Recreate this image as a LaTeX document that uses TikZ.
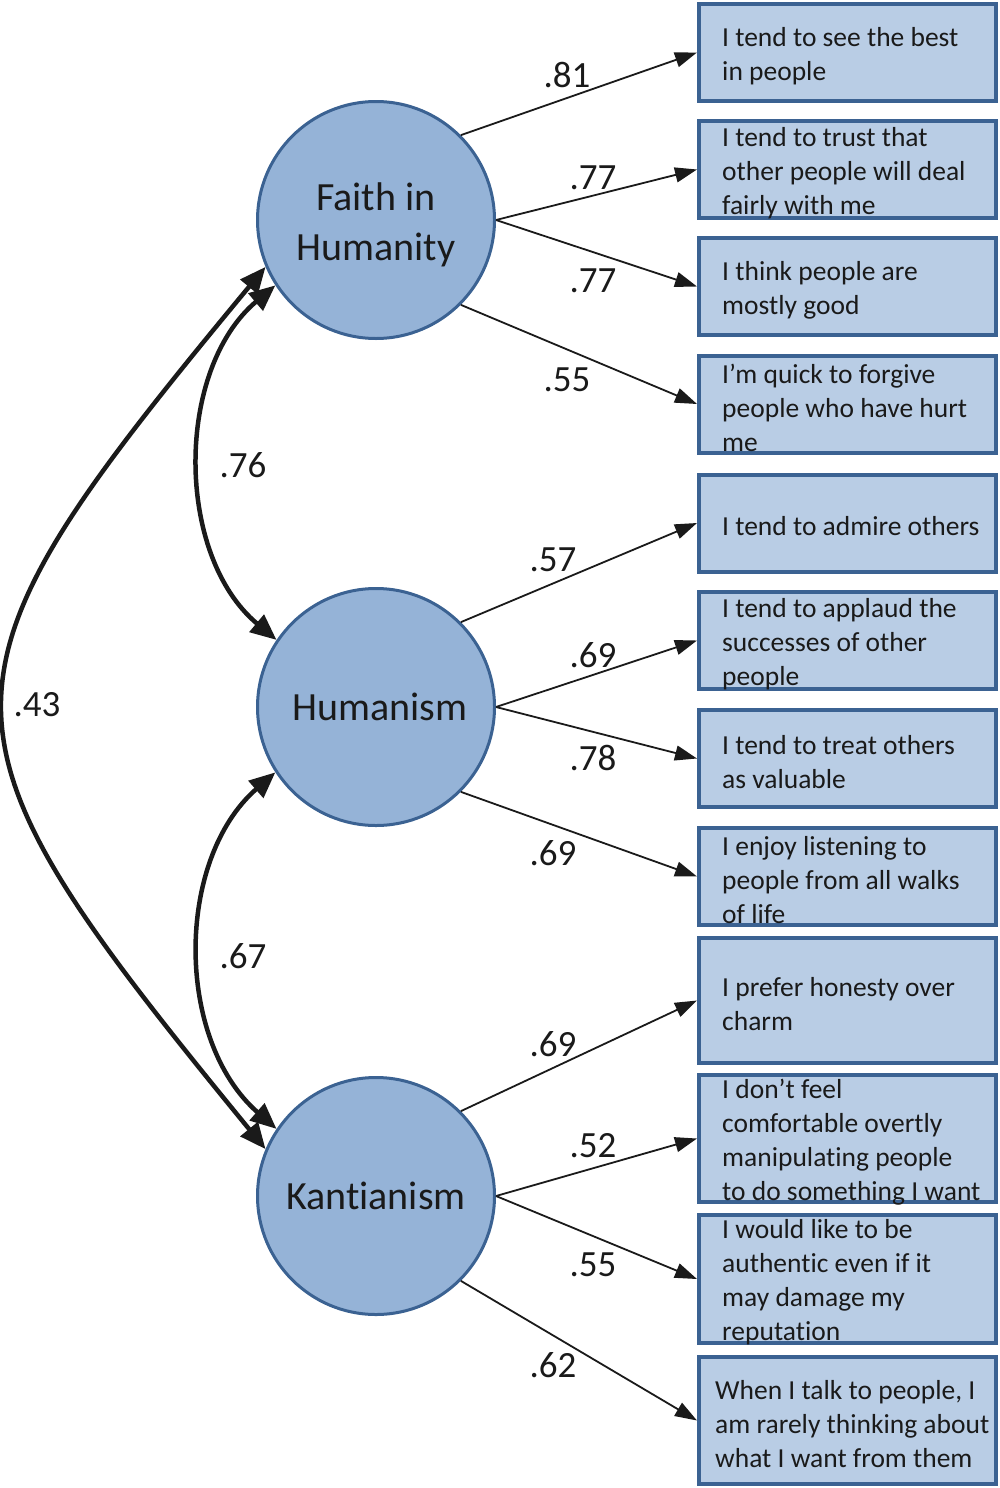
\documentclass[tikz,border=0pt]{standalone}
\usepackage{fontspec}
\setmainfont{Carlito}[Ligatures=NoCommon]
\usepackage{xcolor}
\usetikzlibrary{positioning,arrows.meta}
\definecolor{latentfill}{HTML}{95B3D7}
\definecolor{itemfill}{HTML}{B9CDE5}
\definecolor{edgeblue}{HTML}{3B6292}
\definecolor{inkgray}{HTML}{1A1A1A}

\begin{document}
\begin{tikzpicture}[
    x=1pt, y=-1pt,
    latent/.style={circle, draw=edgeblue, line width=3pt, fill=latentfill, minimum size=237pt,
        inner sep=0pt, align=center, text=inkgray, font=\fontsize{40}{50}\selectfont},
    item/.style={rectangle, draw=edgeblue, line width=4pt, fill=itemfill, minimum width=297pt, inner sep=0pt},
    itemtext/.style={align=left, inner sep=0pt, yshift=-3.5pt, text=inkgray, font=\fontsize{27.5}{34}\selectfont},
    lbl/.style={inner sep=0pt, text=inkgray, font=\fontsize{37}{44}\selectfont},
    load/.style={-{Triangle[length=22pt, width=15pt]}, line width=1.8pt, draw=inkgray},
    cov/.style={{Triangle[length=26pt, width=22pt]}-{Triangle[length=26pt, width=22pt]}, line width=4.5pt, draw=inkgray}
]
    \useasboundingbox (0,0) rectangle (1000,1488);

    % latent factors
    \node[latent] (faith) at (376,220) {\rule{0pt}{38pt}Faith in\\Humanity};
    \node[latent] (human) at (376,707) {\raisebox{-2pt}{\hspace*{8pt}Humanism}};
    \node[latent] (kant) at (376,1196) {Kantianism};

    % indicator boxes
    \node[item, minimum height=97pt] (i1) at (847.5,52.5) {};
    \node[item, minimum height=97pt] (i2) at (847.5,169.5) {};
    \node[item, minimum height=97pt] (i3) at (847.5,286.5) {};
    \node[item, minimum height=97pt] (i4) at (847.5,404) {};
    \node[item, minimum height=97pt] (i5) at (847.5,523) {};
    \node[item, minimum height=97pt] (i6) at (847.5,640.5) {};
    \node[item, minimum height=97pt] (i7) at (847.5,758.5) {};
    \node[item, minimum height=97pt] (i8) at (847.5,876.5) {};
    \node[item, minimum height=125pt] (i9) at (847.5,1000.5) {};
    \node[item, minimum height=127pt] (i10) at (847.5,1138.5) {};
    \node[item, minimum height=128pt] (i11) at (847.5,1279) {};
    \node[item, minimum height=127pt] (i12) at (847.5,1420.5) {};

    \node[itemtext, right=25pt of i1.west] (t1) {I tend to see the best\\in people};
    \node[itemtext, right=25pt of i2.west] (t2) {I tend to trust that\\other people will deal\\fairly with me};
    \node[itemtext, right=25pt of i3.west] (t3) {I think people are\\mostly good};
    \node[itemtext, right=25pt of i4.west] (t4) {I’m quick to forgive\\people who have hurt\\me};
    \node[itemtext, right=25pt of i5.west] (t5) {I tend to admire others};
    \node[itemtext, right=25pt of i6.west] (t6) {I tend to applaud the\\successes of other\\people};
    \node[itemtext, right=25pt of i7.west] (t7) {I tend to treat others\\as valuable};
    \node[itemtext, right=25pt of i8.west] (t8) {I enjoy listening to\\people from all walks\\of life};
    \node[itemtext, right=25pt of i9.west] (t9) {I prefer honesty over\\charm};
    \node[itemtext, right=25pt of i10.west] (t10) {I don’t feel\\comfortable overtly\\manipulating people\\to do something I want};
    \node[itemtext, right=25pt of i11.west] (t11) {I would like to be\\authentic even if it\\may damage my\\reputation};
    \node[itemtext, right=18pt of i12.west] (t12) {When I talk to people, I\\am rarely thinking about\\what I want from them};

    % loadings
    \draw[load] (faith.45) -- (i1.west);
    \draw[load] (faith.east) -- (i2.west);
    \draw[load] (faith.east) -- (i3.west);
    \draw[load] (faith.-45) -- (i4.west);
    \draw[load] (human.45) -- (i5.west);
    \draw[load] (human.east) -- (i6.west);
    \draw[load] (human.east) -- (i7.west);
    \draw[load] (human.-45) -- (i8.west);
    \draw[load] (kant.45) -- (i9.west);
    \draw[load] (kant.east) -- (i10.west);
    \draw[load] (kant.east) -- (i11.west);
    \draw[load] (kant.-45) -- (i12.west);

    \node[lbl] (l1) at (567,75) {.81};
    \node[lbl] (l2) at (593,178) {.77};
    \node[lbl] (l3) at (593,281) {.77};
    \node[lbl] (l4) at (567,380) {.55};
    \node[lbl] (l5) at (553,560) {.57};
    \node[lbl] (l6) at (593,655) {.69};
    \node[lbl] (l7) at (593,758) {.78};
    \node[lbl] (l8) at (553,853) {.69};
    \node[lbl] (l9) at (553,1044) {.69};
    \node[lbl] (l10) at (593,1146) {.52};
    \node[lbl] (l11) at (593,1265) {.55};
    \node[lbl] (l12) at (553,1365) {.62};

    % correlations
    \draw[cov] (faith.213) .. controls (175,370) and (175,555) .. (human.146);
    \draw[cov] (human.213) .. controls (175,860) and (175,1040) .. (kant.146);
    \draw[cov] (faith.203) .. controls (-82,686) and (-82,725) .. (kant.157);
    \node[lbl] (c1) at (243,465) {.76};
    \node[lbl] (c2) at (243,956) {.67};
    \node[lbl] (c3) at (37,705) {.43};
\end{tikzpicture}
\end{document}
